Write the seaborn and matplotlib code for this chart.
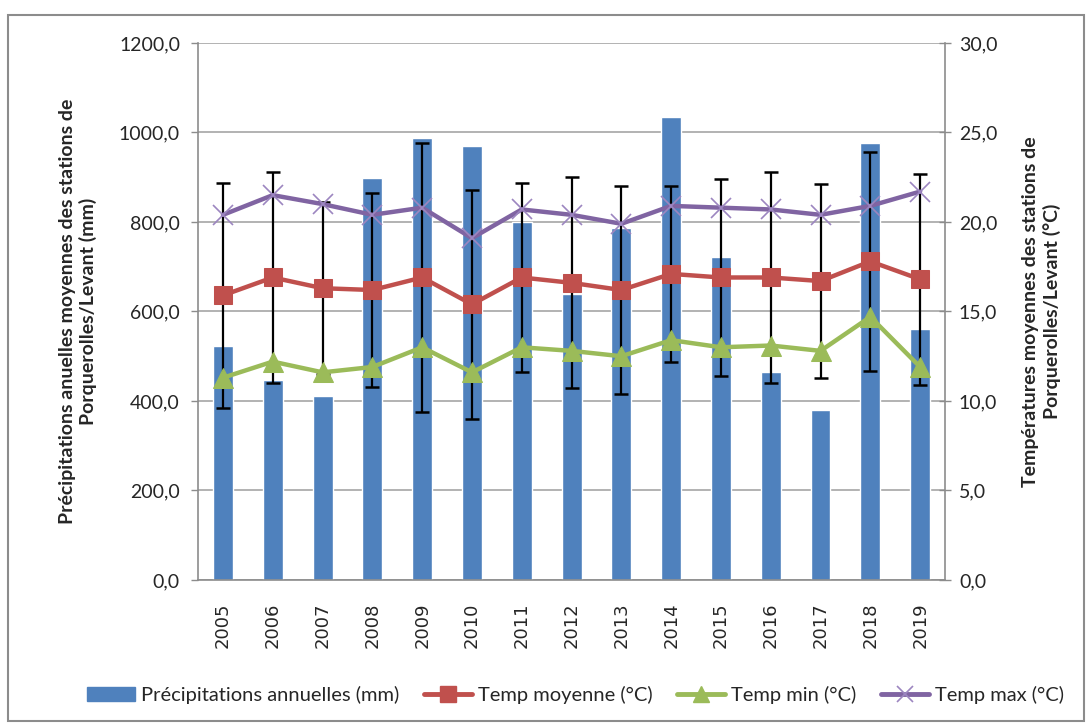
import numpy as np
import pandas as pd
import matplotlib
matplotlib.use('Agg')
import matplotlib.pyplot as plt
import seaborn as sns
from matplotlib.ticker import FuncFormatter
from matplotlib.patches import Patch, Rectangle
from matplotlib.lines import Line2D

# Annual data, Porquerolles/Levant stations
years = ['2005', '2006', '2007', '2008', '2009', '2010', '2011', '2012',
         '2013', '2014', '2015', '2016', '2017', '2018', '2019']
precip = [524, 448, 411, 899, 987, 970, 801, 639, 787, 1035, 722, 464, 381, 977, 562]
t_moy = [15.9, 16.9, 16.3, 16.2, 16.9, 15.4, 16.9, 16.6, 16.2, 17.1, 16.9, 16.9, 16.7, 17.8, 16.8]
t_min = [11.3, 12.2, 11.6, 11.9, 13.0, 11.6, 13.0, 12.8, 12.5, 13.4, 13.0, 13.1, 12.8, 14.7, 11.9]
t_max = [20.4, 21.5, 21.0, 20.4, 20.8, 19.1, 20.7, 20.4, 19.9, 20.9, 20.8, 20.7, 20.4, 20.9, 21.7]
t_err = [6.3, 5.9, 4.8, 5.4, 7.5, 6.4, 5.3, 5.9, 5.8, 4.9, 5.5, 5.9, 5.4, 6.1, 5.9]

legend_labels = ['Précipitations annuelles (mm)', 'Temp moyenne (°C)',
                 'Temp min (°C)', 'Temp max (°C)']

c_bar, c_moy, c_min, c_max = '#4F81BD', '#C0504D', '#9BBB59', '#8064A2'
grey = '#8C8C8C'

sns.set_style('white')
plt.rcParams['font.family'] = ['Lato', 'DejaVu Sans']

df = pd.DataFrame({'Année': years, 'Précip': precip})
xpos = np.arange(len(years))

fig = plt.figure(figsize=(10.9, 7.25), dpi=100)
ax1 = fig.add_axes([0.1817, 0.2, 0.6853, 0.7407])

sns.barplot(data=df, x='Année', y='Précip', color=c_bar, saturation=1,
            width=0.4, ax=ax1, zorder=2)
ax1.set_ylim(0, 1200)
ax1.set_xlim(-0.5, len(years) - 0.5)
ax1.set_yticks(np.arange(0, 1201, 200))
fmt = FuncFormatter(lambda v, p: f"{v:.1f}".replace('.', ','))
ax1.yaxis.set_major_formatter(fmt)
ax1.yaxis.grid(True, color='#A6A6A6', linewidth=1.2)
ax1.set_axisbelow(True)
ax1.set_xlabel('')
ax1.set_ylabel('Précipitations anuelles moyennes des stations de\nPorquerolles/Levant (mm)',
               fontsize=14, fontweight='bold', labelpad=16)

# x ticks between categories, labels rotated
ax1.set_xticks(xpos)
ax1.set_xticklabels(years, rotation=90, fontsize=13, family='DejaVu Sans')
ax1.set_xticks(np.arange(-0.5, len(years), 1), minor=True)
ax1.tick_params(axis='x', which='major', length=0, pad=16)
ax1.tick_params(axis='x', which='minor', length=8, color=grey, width=1)
ax1.tick_params(axis='y', length=5, color=grey, width=1, labelsize=14, pad=8, left=True)

for s in ['top', 'right']:
    ax1.spines[s].set_visible(False)
for s in ['left', 'bottom']:
    ax1.spines[s].set_color(grey)
    ax1.spines[s].set_linewidth(1.2)

# temperatures on the secondary axis
ax2 = ax1.twinx()
ax2.errorbar(xpos, t_moy, yerr=t_err, fmt='none', ecolor='black',
             elinewidth=1.6, capsize=5, capthick=1.8, zorder=1)
sns.lineplot(x=xpos, y=t_max, ax=ax2, color=c_max, linewidth=3.2, marker='x',
             markersize=14, markeredgecolor='#9C86C0', markeredgewidth=1.2, zorder=3)
sns.lineplot(x=xpos, y=t_moy, ax=ax2, color=c_moy, linewidth=3.2, marker='s',
             markersize=13, markeredgecolor=c_moy, zorder=4)
sns.lineplot(x=xpos, y=t_min, ax=ax2, color=c_min, linewidth=3.2, marker='^',
             markersize=14, markeredgecolor=c_min, zorder=4)
ax2.set_ylim(0, 30)
ax2.set_yticks(np.arange(0, 31, 5))
ax2.yaxis.set_major_formatter(fmt)
ax2.tick_params(axis='y', length=8, direction='inout', color=grey, width=1,
                labelsize=14, pad=6, right=True)
ax2.set_ylabel('Températures moyennes des stations de\nPorquerolles/Levant (°C)',
               fontsize=14, fontweight='bold', labelpad=18)
for s in ['top', 'left', 'bottom']:
    ax2.spines[s].set_visible(False)
ax2.spines['right'].set_color(grey)
ax2.spines['right'].set_linewidth(1.2)

handles = [
    Patch(facecolor=c_bar, edgecolor=c_bar),
    Line2D([], [], color=c_moy, lw=3.5, marker='s', markersize=11),
    Line2D([], [], color=c_min, lw=3.5, marker='^', markersize=11),
    Line2D([], [], color=c_max, lw=3.5, marker='x', markersize=11,
           markeredgecolor='#9C86C0', markeredgewidth=1.2),
]
fig.legend(handles, legend_labels, loc='center', bbox_to_anchor=(0.528, 0.041),
           ncol=4, frameon=False, fontsize=14.5, handlelength=2.4,
           handletextpad=0.3, columnspacing=1.2)

# outer chart frame
fig.patches.append(Rectangle((0.0073, 0.006), 0.987, 0.973, transform=fig.transFigure,
                             fill=False, edgecolor=grey, linewidth=1.5))

fig.savefig('out.png', dpi=100)
